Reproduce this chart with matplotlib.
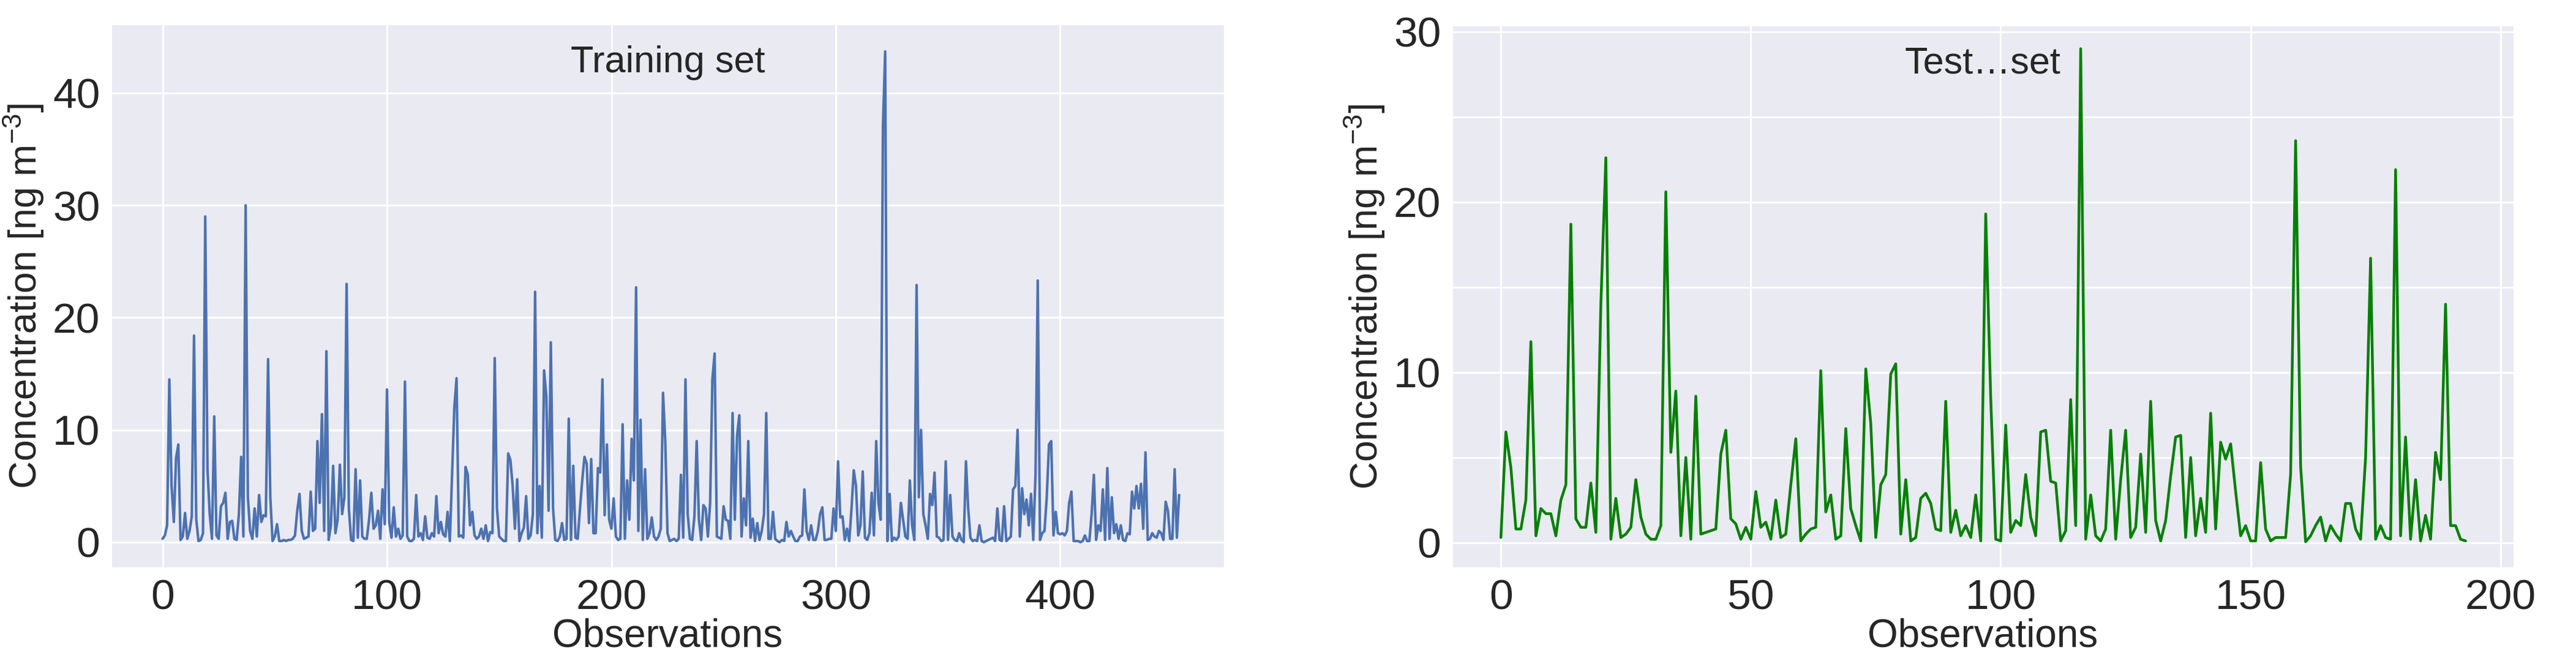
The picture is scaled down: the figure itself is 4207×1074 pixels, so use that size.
import matplotlib
matplotlib.use("Agg")
import matplotlib.pyplot as plt
import seaborn as sns
import numpy as np

train_values = [
 0.3,0.6,1.5,14.5,5,1.8,7.5,8.7,0.2,0.5,
 2.6,0.3,1.0,2.3,18.4,2.0,0.1,0.2,0.8,29.0,
 6.5,2.5,0.3,11.2,0.6,0.3,3.2,3.5,4.4,0.3,
 1.8,1.9,0.3,0.2,2.5,7.6,0.5,30.0,4.0,1.0,
 0.3,3.0,0.5,4.2,1.8,2.4,2.3,16.3,4.0,0.1,
 0.5,1.6,0.1,0.1,0.2,0.1,0.2,0.2,0.3,0.6,
 2.8,4.3,1.0,0.3,0.4,0.5,4.5,1.0,1.2,9.0,
 3.5,11.4,1.0,17.0,0.2,1.5,6.8,0.8,2.0,6.9,
 2.5,4.0,23.0,3.0,0.2,0.1,6.5,0.4,5.5,0.5,
 0.3,0.3,2.0,4.4,1.2,1.5,2.8,0.3,4.7,1.6,
 13.6,1.8,0.4,3.1,0.5,1.2,0.3,0.6,14.3,0.5,
 0.1,0.1,0.3,4.2,0.5,0.8,0.2,2.3,0.4,0.3,
 0.8,0.5,4.1,0.8,1.8,0.7,0.5,2.7,0.1,6.0,
 12.0,14.6,0.5,0.6,0.4,6.7,6.0,1.5,2.7,0.6,
 0.3,0.5,1.2,0.3,1.5,0.1,0.9,0.8,16.4,3.0,
 0.5,0.3,0.1,0.1,7.9,7.3,5.0,1.2,5.6,0.1,
 0.8,1.3,4.1,0.3,0.6,2.5,22.3,0.8,5.0,0.4,
 15.3,13.0,2.8,17.8,3.0,0.2,0.1,0.5,1.7,0.2,
 0.3,11.0,0.2,6.8,0.4,0.3,3.0,5.5,7.6,7.0,
 1.7,7.4,0.8,0.8,6.6,6.2,14.5,2.4,8.7,2.0,
 1.2,3.9,0.5,0.2,0.3,10.5,0.3,5.5,2.0,9.2,
 5.5,22.7,1.0,10.9,0.2,6.5,0.3,0.8,2.2,0.5,
 0.2,0.5,1.2,13.3,9.0,0.8,0.1,0.2,0.3,0.1,
 0.3,6.0,0.4,14.5,2.5,0.3,0.2,2.3,9.0,2.0,
 0.2,3.3,3.0,0.5,3.5,14.5,16.8,0.5,0.4,0.3,
 3.2,2.0,1.9,0.3,11.5,2.0,9.5,11.3,0.5,3.9,
 1.5,9.0,0.4,2.1,0.1,1.7,0.2,1.0,2.5,11.5,
 0.3,0.3,2.7,0.3,0.1,0.0,0.2,0.1,1.8,0.5,
 1.0,0.5,0.1,0.1,0.5,0.6,4.7,1.0,0.2,1.5,
 0.2,0.2,1.0,2.5,3.1,0.2,0.2,0.3,0.3,3.0,
 1.0,7.2,2.2,2.3,0.2,1.2,0.1,3.0,6.4,5.0,
 0.6,1.5,6.3,0.4,0.2,0.8,4.4,0.6,9.0,3.5,
 2.0,37.0,43.7,0.1,4.3,0.1,0.4,0.2,0.5,3.5,
 2.0,0.5,0.3,5.5,1.5,0.2,22.9,4.0,10.0,2.5,
 1.5,0.3,4.3,3.3,6.2,0.5,0.4,0.1,0.2,7.2,
 0.2,4.2,0.5,0.2,0.1,0.8,0.2,0.0,7.2,3.0,
 0.4,0.1,0.2,0.1,1.5,0.1,0.0,0.1,0.2,0.3,
 0.4,0.1,3.0,0.2,0.1,3.2,0.1,0.3,0.5,4.7,
 5.0,10.0,0.5,4.8,2.5,3.8,1.5,4.3,0.2,6.0,
 23.3,0.2,0.8,1.0,4.0,8.7,9.0,0.6,2.7,0.8,
 0.7,0.8,0.6,1.0,3.5,4.5,0.1,0.1,0.1,0.0,
 0.1,0.6,0.1,0.1,2.5,6.0,0.2,1.5,1.0,4.7,
 0.2,6.6,0.3,4.0,0.8,1.6,0.3,1.5,0.2,0.1,
 0.8,0.7,4.5,3.0,5.0,3.0,5.2,1.2,8.0,0.2,
 0.3,0.8,0.5,0.4,1.0,0.8,0.2,3.6,2.8,0.3,
 0.3,6.5,0.4,4.2,
]

test_values = [
 0.3,6.5,4.4,0.8,0.8,2.5,11.8,0.4,2.0,1.7,
 1.7,0.4,2.5,3.4,18.7,1.4,0.9,0.9,3.5,0.6,
 14.0,22.6,0.2,2.6,0.3,0.5,0.9,3.7,1.5,0.5,
 0.2,0.2,1.0,20.6,5.3,8.9,0.4,5.0,0.2,8.6,
 0.5,0.6,0.7,0.8,5.2,6.6,1.4,1.1,0.2,0.9,
 0.2,3.0,0.9,1.2,0.2,2.5,0.3,0.5,3.4,6.1,
 0.1,0.5,0.8,0.9,10.1,1.8,2.8,0.2,0.4,6.7,
 2.0,1.0,0.1,10.2,7.0,0.3,3.4,4.0,9.9,10.5,
 0.5,3.7,0.1,0.3,2.6,2.9,2.3,0.8,0.7,8.3,
 0.6,1.9,0.4,1.0,0.3,2.8,0.1,19.3,8.5,0.2,
 0.1,6.9,0.6,1.3,1.0,4.0,1.5,0.4,6.5,6.6,
 3.6,3.5,0.1,0.7,8.4,1.0,29.0,0.2,2.8,0.4,
 0.1,0.8,6.6,0.2,3.7,6.6,0.3,0.9,5.2,0.6,
 8.3,1.3,0.1,1.3,3.9,6.2,6.3,0.3,5.0,0.4,
 2.6,0.6,7.6,0.8,5.9,4.9,5.8,3.0,0.4,1.0,
 0.1,0.1,4.7,0.8,0.1,0.3,0.3,0.3,4.0,23.6,
 4.5,0.05,0.4,1.0,1.5,0.1,1.0,0.5,0.1,2.3,
 2.3,0.8,0.2,5.0,16.7,0.2,1.0,0.3,0.2,21.9,
 0.4,6.2,0.2,3.7,0.1,1.6,0.2,5.3,3.7,14.0,
 1.0,1.0,0.2,0.1,
]

train_x = np.arange(len(train_values))
test_x = np.arange(len(test_values))

sns.set_style("darkgrid")
plt.rcParams['font.family'] = ['Liberation Sans', 'DejaVu Sans']
plt.rcParams['mathtext.default'] = 'regular'

W, H = 4207, 1074
fig = plt.figure(figsize=(W/100, H/100), dpi=100)
ax1 = fig.add_axes([182/W, 1-926/H, (1999-182)/W, (926-40)/H])
ax2 = fig.add_axes([2372/W, 1-926/H, (4105-2372)/W, (926-42)/H])

ax1.plot(train_x, train_values, color='#4c72b0', lw=3)
ax2.plot(test_x, test_values, color='green', lw=3.2)

ax1.set_xlim(-22.8, 473)
ax1.set_ylim(-2.24, 46.1)
ax1.set_yticks([0, 10, 20, 30, 40])
ax1.set_xticks([0, 100, 200, 300, 400])
ax2.set_xlim(-9.7, 202.6)
ax2.set_ylim(-1.45, 30.35)
ax2.set_yticks([0, 5, 10, 15, 20, 25, 30])
ax2.set_yticklabels(['0', '', '10', '', '20', '', '30'])
ax2.set_xticks([0, 50, 100, 150, 200])

for ax, title in [(ax1, 'Training set'), (ax2, 'Test\u2026set')]:
    ax.grid(True, color='white', lw=2.2)
    ax.tick_params(labelsize=50, colors='#262626', pad=10)
    ax.set_xlabel('Observations', fontsize=46, color='#262626', labelpad=0)
    ax.set_ylabel('Concentration [ng m$^{-3}$]', fontsize=45, color='#262626', labelpad=8)
    ax.text(0.5, 0.93, title, transform=ax.transAxes, ha='center', va='center',
            fontsize=44, color='#262626')

fig.savefig('out.png', dpi=100)
